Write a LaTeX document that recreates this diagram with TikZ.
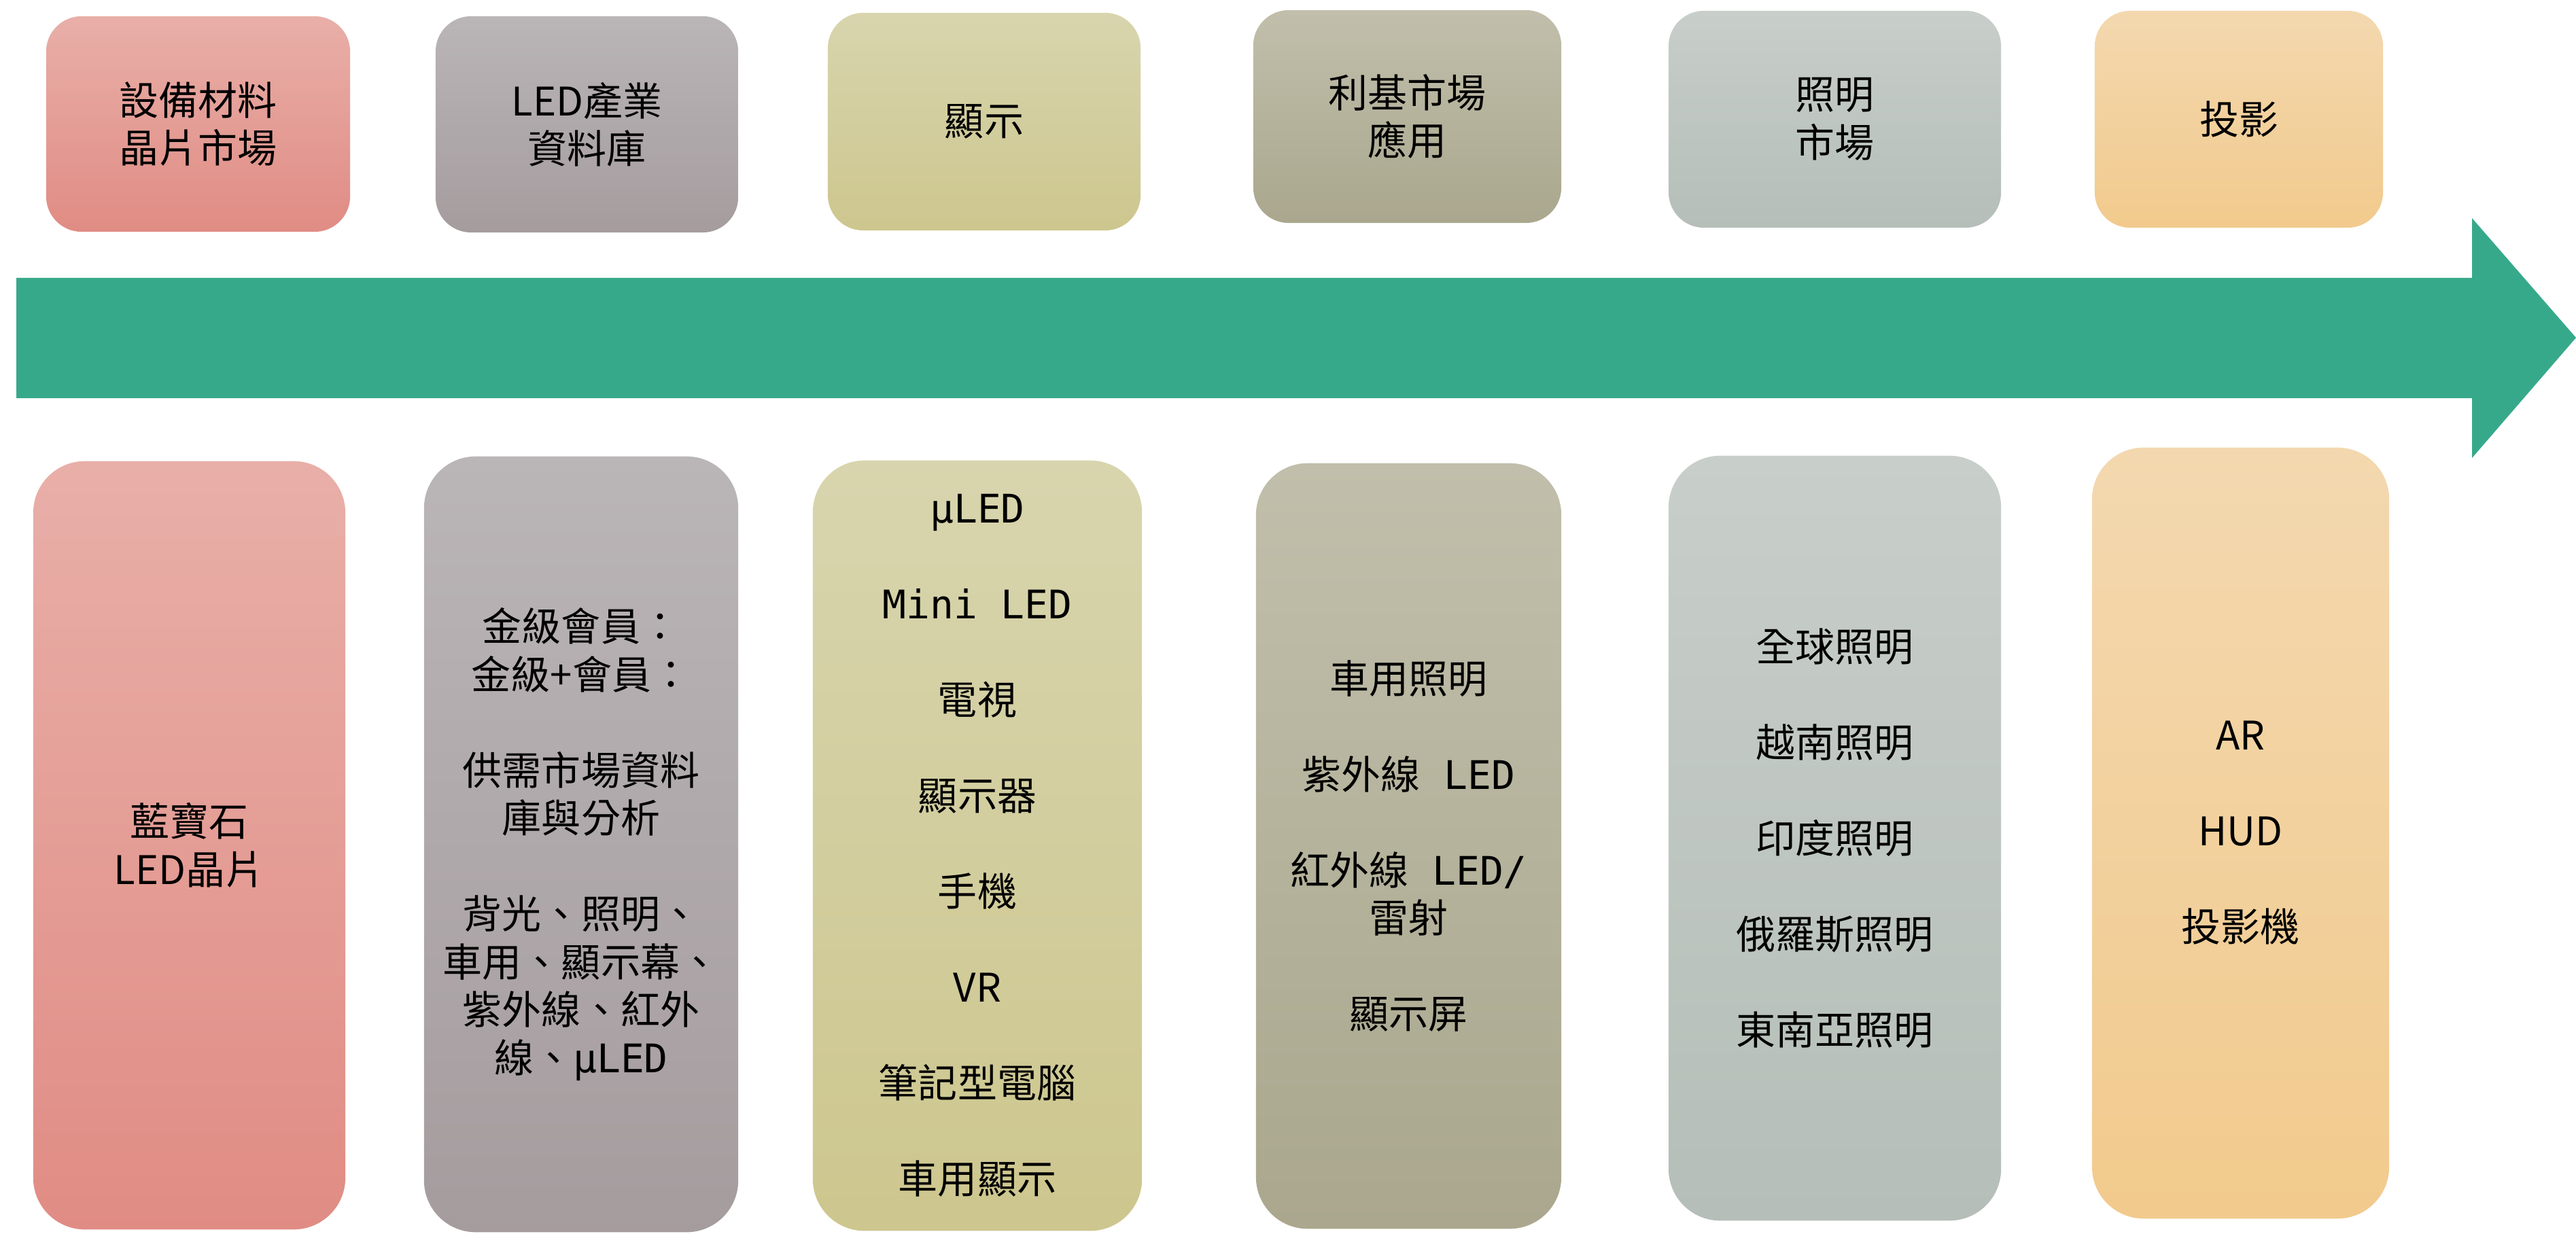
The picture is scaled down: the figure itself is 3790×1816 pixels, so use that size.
\documentclass[tikz,border=0pt]{standalone}
\usepackage{fontspec}
\setmainfont{Noto Sans CJK TC}
\newfontfamily\monof{DejaVu Sans Mono}
\definecolor{cAt}{HTML}{E8AFA8}\definecolor{cAb}{HTML}{E08C84}
\definecolor{cBt}{HTML}{BAB5B7}\definecolor{cBb}{HTML}{A59C9E}
\definecolor{cCt}{HTML}{D8D5AE}\definecolor{cCb}{HTML}{CDC68E}
\definecolor{cDt}{HTML}{C1BFAB}\definecolor{cDb}{HTML}{AAA78E}
\definecolor{cEt}{HTML}{C8CECA}\definecolor{cEb}{HTML}{B5BEB8}
\definecolor{cFt}{HTML}{F3D8AF}\definecolor{cFb}{HTML}{F2CA8D}
\definecolor{arrowc}{HTML}{37A98B}
\begin{document}
\begin{tikzpicture}[x=0.01cm,y=-0.01cm,
  box/.style={inner sep=0pt, align=center, text=black, font=\fontsize{16.5pt}{20.05pt}\selectfont},
  topbox/.style={box, rounded corners=0.52cm},
  botbox/.style={box, rounded corners=0.76cm},
  palA/.style={top color=cAt, bottom color=cAb},
  palB/.style={top color=cBt, bottom color=cBb},
  palC/.style={top color=cCt, bottom color=cCb},
  palD/.style={top color=cDt, bottom color=cDb},
  palE/.style={top color=cEt, bottom color=cEb},
  palF/.style={top color=cFt, bottom color=cFb}]
\useasboundingbox (0,0) rectangle (3790,1816);
% timeline arrow
\fill[arrowc] (24,409) -- (3637,409) -- (3637,321) -- (3790,497) -- (3637,674) -- (3637,586) -- (24,586) -- cycle;
% top boxes
\node[topbox,palA,minimum width=4.47cm,minimum height=3.17cm] (t1) at (291.5,182.5) {設備材料\\晶片市場};
\node[topbox,palB,minimum width=4.45cm,minimum height=3.18cm] (t2) at (863.5,183) {LED產業\\資料庫};
\node[topbox,palC,minimum width=4.60cm,minimum height=3.20cm] (t3) at (1448,179) {顯示};
\node[topbox,palD,minimum width=4.53cm,minimum height=3.13cm] (t4) at (2070.5,171.5) {利基市場\\應用};
\node[topbox,palE,minimum width=4.89cm,minimum height=3.19cm] (t5) at (2699.5,175.5) {照明\\市場};
\node[topbox,palF,minimum width=4.24cm,minimum height=3.19cm] (t6) at (3294,175.5) {投影};
% bottom boxes
\node[botbox,palA,minimum width=4.59cm,minimum height=11.30cm] (b1) at (278.5,1244) {藍寶石\\LED晶片};
\node[botbox,palB,minimum width=4.62cm,minimum height=11.41cm] (b2) at (855,1242.5)
  {金級會員：\\金級+會員：\\[20.05pt]供需市場資料\\庫與分析\\[20.05pt]背光、照明、\\車用、顯示幕、\\紫外線、紅外\\線、{\monof μLED}};
\node[botbox,palC,minimum width=4.84cm,minimum height=11.33cm] (b3) at (1438,1244.5)
  {{\monof μLED}\\[20.05pt]{\monof Mini LED}\\[20.05pt]電視\\[20.05pt]顯示器\\[20.05pt]手機\\[20.05pt]VR\\[20.05pt]筆記型電腦\\[20.05pt]車用顯示};
\node[botbox,palD,minimum width=4.49cm,minimum height=11.26cm] (b4) at (2072.5,1245)
  {車用照明\\[20.05pt]紫外線{\monof\ LED}\\[20.05pt]紅外線{\monof\ LED/}\\雷射\\[20.05pt]顯示屏};
\node[botbox,palE,minimum width=4.89cm,minimum height=11.25cm] (b5) at (2699.5,1233.5)
  {全球照明\\[20.05pt]越南照明\\[20.05pt]印度照明\\[20.05pt]俄羅斯照明\\[20.05pt]東南亞照明};
\node[botbox,palF,minimum width=4.37cm,minimum height=11.34cm] (b6) at (3296.5,1226)
  {AR\\[20.05pt]HUD\\[20.05pt]投影機};
\end{tikzpicture}
\end{document}
